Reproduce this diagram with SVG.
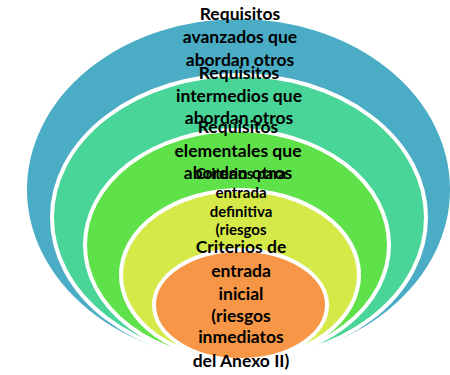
<svg xmlns="http://www.w3.org/2000/svg" width="450" height="375" viewBox="0 0 450 375">
<style>
.ring{stroke:#FFFFFF;stroke-width:4}
.t{font-family:Lato,"Liberation Sans",sans-serif;font-weight:bold;fill:#000000;text-anchor:middle}
.big{font-size:17.5px}
.small{font-size:15px}
</style>
<rect width="450" height="375" fill="#FFFFFF"/>
<g id="avanzados">
<ellipse class="ring" cx="238.5" cy="189.5" rx="213.5" ry="172.5" fill="#4BACC6"/>
<text class="t big" x="240" y="20">Requisitos</text>
<text class="t big" x="240" y="43.3">avanzados que</text>
<text class="t big" x="240" y="65.7">abordan otros</text>
</g>
<g id="intermedios">
<ellipse class="ring" cx="239" cy="217.5" rx="187" ry="142.5" fill="#48D597"/>
<text class="t big" x="239" y="79">Requisitos</text>
<text class="t big" x="239" y="101.7">intermedios que</text>
<text class="t big" x="239" y="124">abordan otros</text>
</g>
<g id="elementales">
<ellipse class="ring" cx="237" cy="245" rx="152" ry="115" fill="#5FE149"/>
<text class="t big" x="238" y="133.3">Requisitos</text>
<text class="t big" x="238" y="156.7">elementales que</text>
<text class="t big" x="238" y="179.3">abordan otros</text>
</g>
<g id="definitiva">
<ellipse class="ring" cx="240" cy="275" rx="119" ry="85" fill="#D5EA49"/>
<text class="t small" x="241" y="179">Criterios para</text>
<text class="t small" x="241" y="197.7">entrada</text>
<text class="t small" x="241" y="216.7">definitiva</text>
<text class="t small" x="241" y="235">(riesgos</text>
</g>
<g id="inicial">
<ellipse class="ring" cx="240.5" cy="305" rx="86.5" ry="55" fill="#F79646"/>
<text class="t big" x="241" y="253.3">Criterios de</text>
<text class="t big" x="241" y="276.7">entrada</text>
<text class="t big" x="241" y="300">inicial</text>
<text class="t big" x="241" y="321.7">(riesgos</text>
<text class="t big" x="241" y="343.3">inmediatos</text>
<text class="t big" x="241" y="366.7">del Anexo II)</text>
</g>
<g id="connectors"></g>
</svg>
